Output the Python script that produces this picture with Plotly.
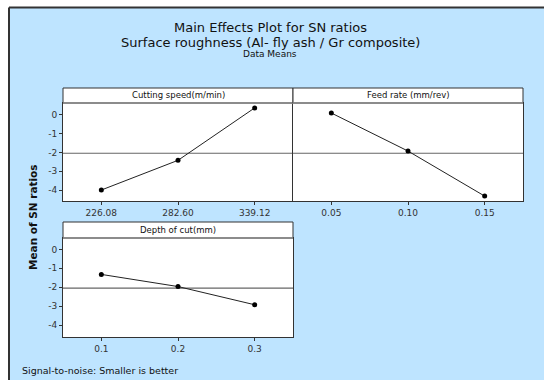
import plotly.graph_objects as go
import numpy as np

# ---- data ----
speed_labels = ["226.08", "282.60", "339.12"]
speed_sn = [-3.99, -2.42, 0.35]
feed_labels = ["0.05", "0.10", "0.15"]
feed_sn = [0.08, -1.93, -4.31]
depth_labels = ["0.1", "0.2", "0.3"]
depth_sn = [-1.32, -1.96, -2.92]
y_ticks = [0, -1, -2, -3, -4]
y_ticktext = ["0", "-1", "-2", "-3", "-4"]
panel_titles = ["Cutting speed(m/min)", "Feed rate (mm/rev)", "Depth of cut(mm)"]

grand_mean = float(np.mean([np.mean(speed_sn), np.mean(feed_sn), np.mean(depth_sn)]))

W, H = 544, 380
def px(x): return x / W
def py(y): return 1 - y / H

BLUE = "#BEE4FF"
FONT = "DejaVu Sans"
fig = go.Figure()

series = [(speed_labels, speed_sn), (feed_labels, feed_sn), (depth_labels, depth_sn)]
for i, (lab, vals) in enumerate(series):
    fig.add_trace(go.Scatter(
        x=list(range(len(lab))), y=vals, mode="lines+markers",
        line=dict(color="#222222", width=1),
        marker=dict(color="black", size=5),
        xaxis="x" if i == 0 else f"x{i+1}", yaxis="y" if i == 0 else f"y{i+1}",
        showlegend=False, hoverinfo="skip"))

# domains (pixel based)
top_y = [py(201), py(103)]
bot_y = [py(337), py(238)]
left_x = [px(63), px(293)]
right_x = [px(293), px(523)]

axis_common = dict(showgrid=False, zeroline=False, showline=True, linecolor="#333333",
                   linewidth=1, mirror=True, ticks="outside", ticklen=3, tickcolor="#333333",
                   tickfont=dict(family=FONT, size=9, color="#333333"))
yr = [-4.57, 0.61]
yr3 = [-4.62, 0.60]
y1_common = {k: v for k, v in axis_common.items() if k != "mirror"}
layout = dict(
    width=W, height=H, margin=dict(l=0, r=0, t=0, b=0),
    paper_bgcolor=BLUE, plot_bgcolor="white",
    xaxis=dict(domain=left_x, anchor="y", range=[-0.5, 2.5], tickvals=[0, 1, 2],
               ticktext=speed_labels, **axis_common),
    yaxis=dict(domain=top_y, anchor="x", range=yr, tickvals=y_ticks, ticktext=y_ticktext,
               mirror=False, **y1_common),
    xaxis2=dict(domain=right_x, anchor="y2", range=[-0.5, 2.5], tickvals=[0, 1, 2],
                ticktext=feed_labels, **axis_common),
    yaxis2=dict(domain=top_y, anchor="x2", range=yr, tickvals=[], showticklabels=False,
                **{k: v for k, v in axis_common.items() if k not in ("ticks",)}),
    xaxis3=dict(domain=left_x, anchor="y3", range=[-0.5, 2.5], tickvals=[0, 1, 2],
                ticktext=depth_labels, **axis_common),
    yaxis3=dict(domain=bot_y, anchor="x3", range=yr3, tickvals=y_ticks, ticktext=y_ticktext, **axis_common),
)
fig.update_layout(**layout)

shapes = []
# white margin outside the blue frame + border
shapes.append(dict(type="rect", xref="paper", yref="paper", x0=-0.01, x1=1.01, y0=py(7.5), y1=1.01,
                   fillcolor="white", line=dict(width=0)))
shapes.append(dict(type="rect", xref="paper", yref="paper", x0=-0.01, x1=px(9), y0=-0.01, y1=1.01,
                   fillcolor="white", line=dict(width=0)))
shapes.append(dict(type="line", xref="paper", yref="paper", x0=px(9), x1=1, y0=py(7.5), y1=py(7.5),
                   line=dict(color="#333333", width=2)))
shapes.append(dict(type="line", xref="paper", yref="paper", x0=px(9), x1=px(9), y0=0, y1=py(7.5),
                   line=dict(color="#333333", width=2)))
# header strips
headers = [(63, 293, 88, 103), (293, 523, 88, 103), (63, 293, 222, 238)]
for (x0, x1, y0, y1) in headers:
    shapes.append(dict(type="rect", xref="paper", yref="paper", x0=px(x0), x1=px(x1), y0=py(y1), y1=py(y0),
                       fillcolor="white", line=dict(color="#333333", width=1)))
    shapes.append(dict(type="line", xref="paper", yref="paper", x0=px(x0), x1=px(x1), y0=py(y1), y1=py(y1),
                       line=dict(color="#888888", width=1.5)))
# grand mean lines
for ax in ["x", "x2", "x3"]:
    yref = "y" if ax == "x" else "y" + ax[1:]
    shapes.append(dict(type="line", xref=f"{ax} domain", yref=yref, x0=0, x1=1, y0=grand_mean, y1=grand_mean,
                       line=dict(color="#666666", width=1.2), layer="below"))
fig.update_layout(shapes=shapes)

def A(text, x, y, size, xanchor="center", **kw):
    return dict(text=text, x=px(x), y=py(y), xref="paper", yref="paper", showarrow=False,
                xanchor=xanchor, yanchor="middle", font=dict(family=FONT, size=size, color="#111111"), **kw)

ann = []
ann.append(A("Main Effects Plot for SN ratios", 270, 27, 13))
ann.append(A("Surface roughness (Al- fly ash / Gr composite)", 270, 42, 13))
ann.append(A("Data Means", 270, 54, 9))
hdr_centers = [((63 + 293) / 2, 95.5), ((293 + 523) / 2, 95.5), ((63 + 293) / 2, 230)]
for t, (cx, cy) in zip(panel_titles, hdr_centers):
    ann.append(A(t, cx, cy, 8.5))
ann.append(A("<b>Mean of SN ratios</b>", 33, 217, 10.5, textangle=-90))
ann.append(A("Signal-to-noise: Smaller is better", 20, 370, 9.5, xanchor="left"))
fig.update_layout(annotations=ann)

fig.write_html("out.html")
